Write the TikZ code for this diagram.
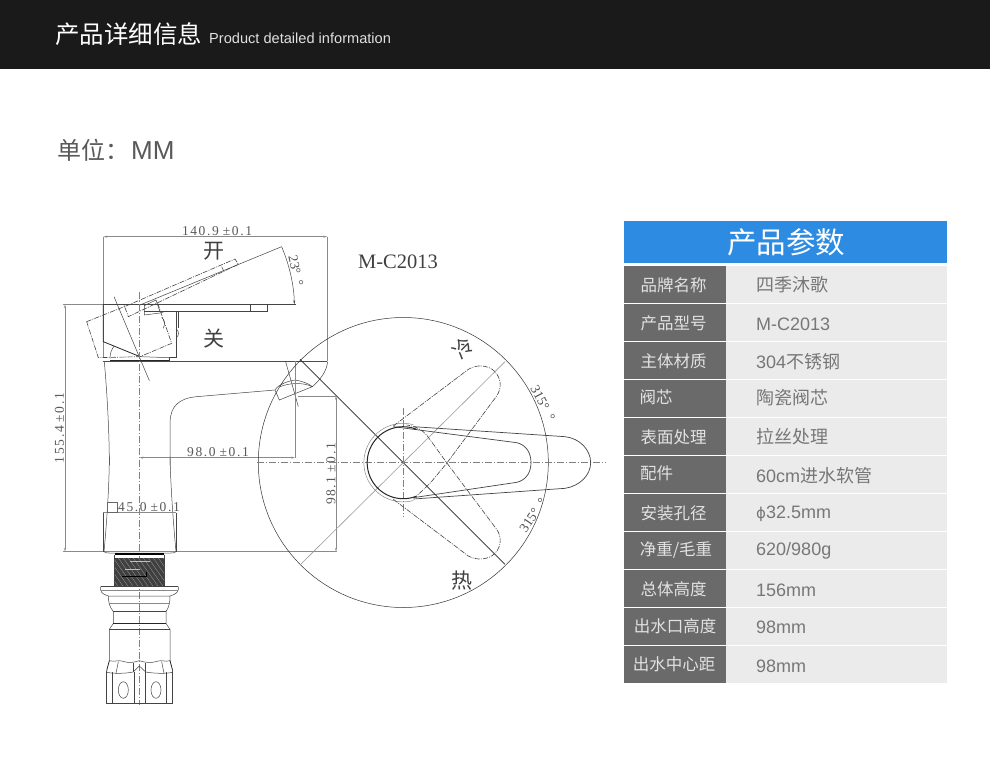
\documentclass[tikz,border=0pt]{standalone}
\usepackage{fontspec}
\usetikzlibrary{arrows.meta}
\setmainfont{Liberation Sans}
\newfontfamily\cjk{Noto Sans CJK SC}
\newfontfamily\cadfont[LetterSpace=12]{Liberation Serif}
\newfontfamily\modelfont{Liberation Serif}
\newfontfamily\phifont{DejaVu Sans}
\newcommand{\zh}[1]{{\cjk #1}}
\newcommand{\tolgap}{\hspace{4pt}}
\definecolor{barblack}{HTML}{1A1A1A}
\definecolor{headblue}{HTML}{2D8BE2}
\definecolor{keygray}{HTML}{6A6A6A}
\definecolor{valgray}{HTML}{EBEBEB}
\definecolor{valtext}{HTML}{777777}
\definecolor{keytext}{HTML}{E2E2E2}
\definecolor{cadline}{HTML}{444444}
\definecolor{dimline}{HTML}{8A8A8A}
\tikzset{
 keycell/.style={fill=keygray,draw=none},
 valcell/.style={fill=valgray,draw=none},
 keylabel/.style={inner sep=0,text=keytext,font=\fontsize{16.5}{17}\selectfont\cjk},
 vallabel/.style={inner sep=0,anchor=west,text=valtext,font=\fontsize{18}{18}\selectfont},
 cadtext/.style={inner sep=0,text=black!65,font=\fontsize{13.5}{13}\selectfont\cadfont},
 anglelabel/.style={inner sep=0,text=black!70,font=\fontsize{13.5}{13}\selectfont\modelfont},
 cadzh/.style={inner sep=0,text=black!75,font=\fontsize{21}{21}\selectfont\cjk},
 outline/.style={draw=cadline,line width=.5pt},
 bold/.style={draw=black!85,line width=1pt},
 thinline/.style={draw=dimline,line width=.5pt},
 dimension/.style={draw=dimline,line width=.5pt,{Stealth[length=4pt,width=2pt]}-{Stealth[length=4pt,width=2pt]}},
 centerline/.style={draw=black!50,line width=.5pt,dash pattern=on 7pt off 2pt on 1pt off 2pt},
 phantomline/.style={draw=cadline,line width=.6pt,dash pattern=on 5pt off 1.2pt on 1pt off 1.2pt},
 zonea/.style={shift={(50,215)},x=.33333pt,y=-.33333pt},
 zoneb/.style={shift={(50,460)},x=.33333pt,y=-.33333pt},
 zonec/.style={shift={(250,320)},x=.33333pt,y=-.33333pt},
}
\begin{document}
\begin{tikzpicture}[x=1pt,y=-1pt]
\useasboundingbox (0,0) rectangle (990,766);
\fill[white] (0,0) rectangle (990,766);
% title bar
\fill[barblack] (0,0) rectangle (990,69);
\node[inner sep=0,anchor=west,text=white,font=\fontsize{24.5}{25}\selectfont\cjk] (title) at (55,34) {产品详细信息};
\node[inner sep=0,anchor=west,text=white!88!black,font=\fontsize{14.6}{15}\selectfont] (titleen) at (209,38) {Product detailed information};
\node[inner sep=0,anchor=west,text=black!65,font=\fontsize{24}{24}\selectfont] (unit) at (57,150) {\zh{单位：}\hspace{2pt}{\fontsize{26}{26}\selectfont MM}};
% table
\fill[headblue] (624,221) rectangle (947,263);
\node[inner sep=0,text=white,font=\fontsize{29.5}{30}\selectfont\cjk] (tablehead) at (786,242) {产品参数};
\foreach \t in {266,304.3,342.3,380.3,418.3,456.3,494,532,570,608,646}{
 \path[keycell] (624,\t) rectangle (726,\t+36.8);
 \path[valcell] (726,\t) rectangle (947,\t+36.8);
}
\node[keylabel] (k1) at (673.5,285) {品牌名称};
\node[keylabel] (k2) at (673.5,323) {产品型号};
\node[keylabel] (k3) at (673.5,361) {主体材质};
\node[keylabel,anchor=west] (k4) at (639.5,397) {阀芯};
\node[keylabel] (k5) at (673.5,437) {表面处理};
\node[keylabel,anchor=west] (k6) at (640,473) {配件};
\node[keylabel] (k7) at (673.5,513) {安装孔径};
\node[keylabel] (k8) at (676,550) {净重/毛重};
\node[keylabel] (k9) at (673.5,589) {总体高度};
\node[keylabel] (k10) at (675,626) {出水口高度};
\node[keylabel] (k11) at (674,664) {出水中心距};
\node[vallabel] (v1) at (756,285) {\zh{四季沐歌}};
\node[vallabel] (v2) at (756,324) {M-C2013};
\node[vallabel] (v3) at (756,361.5) {304\zh{不锈钢}};
\node[vallabel] (v4) at (756,398) {\zh{陶瓷阀芯}};
\node[vallabel] (v5) at (756,437) {\zh{拉丝处理}};
\node[vallabel] (v6) at (756,476) {60cm\zh{进水软管}};
\node[vallabel] (v7) at (756,513.5) {{\phifont\fontsize{15}{15}\selectfont ϕ}32.5mm};
\node[vallabel] (v8) at (756,551) {620/980g};
\node[vallabel] (v9) at (756,590) {156mm};
\node[vallabel] (v10) at (756,627.5) {98mm};
\node[vallabel] (v11) at (756,666) {98mm};
% ---------- side view, upper ----------
\begin{scope}[zonea]
 \draw[thinline] (160,65) -- (160,430);
 \draw[thinline] (832,65) -- (832,438);
 \draw[dimension] (160,65) -- (832,65);
 \draw[thinline] (40,268) -- (160,268);
 % handle closed
 \draw[outline,line width=.7pt] (160,268) -- (653,268);
 \draw[bold,line width=.8pt] (160,268) -- (160,380) -- (270,425);
 \draw[outline] (270,425) -- (358,428);
 \draw[outline] (283,288) -- (653,288) -- (653,268);
 \draw[outline] (600,268) -- (600,288);
 \draw[outline] (283,268) -- (283,300) -- (330,294) -- (350,288);
 \draw[outline] (378,290) -- (378,428) -- (358,428) -- (358,437);
 \draw[outline] (385,290) -- (385,340);
 \draw[outline] (378,342) .. controls (388,345) and (388,365) .. (378,368);
 \draw[outline] (335,308) .. controls (345,312) and (345,330) .. (340,340);
 \draw[outline] (180,430) .. controls (180,415) and (185,402) .. (192,394);
 \draw[bold] (180,436) -- (358,436);
 % base line
 \draw[bold,line width=1pt,draw=black!70] (158,438) -- (832,438);
 % open position
 \draw[phantomline] (110,320) -- (240,268) -- (555,132) -- (565,148) -- (235,305) -- (222,270);
 \draw[phantomline] (110,320) -- (145,428) -- (270,425) -- (365,385) -- (322,262);
 \draw[outline] (283,272) -- (318,255) -- (330,290);
 \draw[outline] (515,155) -- (522,170);
 \draw[outline] (270,270) -- (695,95);
 \draw[outline] (192,245) -- (298,497);
 \draw[outline,-{Stealth[length=4pt,width=2pt]}] (695,95) .. controls (718,150) and (732,210) .. (733,268);
 \draw[outline] (653,268) -- (737,268);
 % body silhouette
 \draw[outline] (163,440) .. controls (170,520) and (178,640) .. (178,750);
 \draw[outline] (360,750) -- (360,620) .. controls (362,575) and (385,550) .. (440,545) -- (675,525);
 % spout tip
 \draw[outline] (675,525) .. controls (685,508) and (715,498) .. (735,495) .. controls (755,498) and (775,505) .. (787,515) -- (688,555) -- (675,525);
 \draw[outline] (690,515) .. controls (715,505) and (755,500) .. (787,515);
 \draw[outline] (833,440) .. controls (830,470) and (810,495) .. (787,515);
 \draw[outline] (707,440) -- (745,575);
 \draw[thinline] (735,438) -- (735,730);
 \draw[thinline] (745,543) -- (858,543);
 \draw[dimension] (268,728) -- (735,728);
\end{scope}
\node[cadtext] (d1) at (217,231) {140.9\tolgap ±0.1};
\node[cadzh] (open) at (214,251) {开};
\node[cadzh] (close) at (214,339) {关};
\node[inner sep=0,text=black!75,font=\fontsize{20.5}{20}\selectfont\modelfont] (model) at (398,262) {M-C2013};
\node[anglelabel,rotate=-78] (a23) at (296,271) {23°\hspace{7pt}°};
\node[cadtext] (d2) at (218,452) {98.0\tolgap ±0.1};
\node[cadtext,rotate=90] (d3) at (59.5,428) {155.4\tolgap ±0.1};
\node[cadtext,rotate=90] (d4) at (331,474) {98.1\tolgap ±0.1};
% centre axis
\draw[centerline] (139.3,292) -- (139.3,705);
% dimension 155.4 and 98.1
\draw[dimension] (65,304.3) -- (65,551.7);
\draw[thinline] (63,551.7) -- (337,551.7);
\draw[dimension] (336,396) -- (336,551.7);
% ---------- side view, lower ----------
\begin{scope}[zoneb]
 \draw[outline] (178,-10) .. controls (178,60) and (172,170) .. (162,275) .. controls (165,278) and (170,279) .. (178,279) -- (362,279) .. controls (370,279) and (375,278) .. (378,275);
 \draw[outline] (360,-10) .. controls (362,80) and (370,190) .. (378,275);
 \draw[thinline] (160,158) -- (378,158);
 \draw[outline] (160,158) -- (160,275);
 \draw[outline] (378,158) -- (378,275);
 \draw[outline,draw=black!60] (172,127) rectangle (203,157);
 % thread
 \draw[line width=1.2pt,black] (195,282) -- (343,282);
 \fill[black!75] (193,294) rectangle (343,380);
 \begin{scope}
  \clip (193,294) rectangle (343,380);
  \foreach \o in {130,145,...,360}{
   \draw[white!70!black,line width=.2pt] (\o,294) -- (\o+60,380);
  }
  \draw[black,line width=1pt] (215,350) -- (290,350) (290,335) -- (290,350);
  \draw[white!75!black,line width=.5pt] (225,328) -- (270,328) (240,305) -- (300,305);
 \end{scope}
 \draw[outline] (193,284) -- (193,380) (343,284) -- (343,380);
 % flange
 \draw[outline] (152,380) -- (385,380);
 \draw[outline] (152,380) .. controls (150,395) and (155,402) .. (175,408) -- (360,408) .. controls (380,402) and (387,395) .. (385,380);
 \draw[thinline] (152,392) -- (385,392);
 \draw[outline] (175,408) .. controls (175,425) and (178,440) .. (190,455) -- (190,490) -- (178,508) -- (178,605);
 \draw[outline] (360,408) .. controls (360,425) and (358,440) .. (348,455) -- (348,490) -- (360,508) -- (360,605);
 \draw[thinline] (176,430) -- (359,430);
 \draw[outline] (190,455) -- (348,455);
 \draw[bold,line width=.7pt] (190,490) -- (348,490);
 \draw[outline] (178,508) -- (360,508);
 % nut
 \draw[outline] (178,602) .. controls (195,606) and (205,600) .. (215,603) .. controls (235,610) and (250,608) .. (268,602) .. controls (285,608) and (305,610) .. (325,603) .. controls (335,600) and (345,606) .. (360,602);
 \draw[outline] (170,637) .. controls (195,642) and (230,640) .. (250,636) -- (268,618) -- (287,636) .. controls (310,640) and (345,642) .. (368,637);
 \draw[bold,line width=.8pt] (178,602) -- (170,632);
 \draw[bold,line width=.8pt] (360,602) -- (368,632);
 \draw[outline] (170,632) -- (170,730) -- (368,730) -- (368,632);
 \draw[outline] (188,637) -- (188,730) (252,636) -- (252,730) (285,636) -- (285,730) (350,637) -- (350,730);
 \draw[outline] (205,605) -- (198,640) (335,605) -- (342,640);
 \draw[outline] (250,608) -- (250,636) (287,608) -- (287,636);
 \draw[outline] (220,690) ellipse[x radius=5pt,y radius=8.3pt];
 \draw[outline] (318,690) ellipse[x radius=5pt,y radius=8.3pt];
\end{scope}
\node[cadtext,anchor=west] (d5) at (118,507) {45.0\tolgap ±0.1};
% ---------- top view ----------
\draw[outline,draw=black!80] (403.3,462.5) circle[radius=145pt];
\begin{scope}[zonec]
 \draw[centerline] (22,428) -- (1068,428);
 \draw[centerline] (460,265) -- (460,590);
 \draw[draw=black!85,line width=.6pt] (150,118) -- (765,733);
 \draw[draw=black!40,line width=.6pt] (150,735) -- (765,125);
 % outer handle
 \draw[outline,line width=.7pt] (490,320) -- (945,350) .. controls (990,355) and (1022,390) .. (1022,428) .. controls (1022,465) and (990,498) .. (945,505) -- (490,537);
 % inner handle
 \draw[outline,line width=.7pt] (430,320) -- (800,368) .. controls (830,375) and (843,400) .. (843,428) .. controls (843,455) and (830,480) .. (800,487) -- (490,533);
 % hub
 \draw[thinline] (490,314) arc[start angle=75,end angle=285,radius=39.3pt];
 \draw[draw=black!85,line width=1pt] (500,328) arc[start angle=68,end angle=292,radius=36pt];
 % cold and hot positions
 \draw[phantomline] (430,318) -- (655,148) .. controls (680,132) and (715,135) .. (735,155) .. controls (755,178) and (755,205) .. (740,228) -- (590,430) -- (540,490) -- (500,528);
 \draw[phantomline] (430,538) -- (655,708) .. controls (680,722) and (715,720) .. (735,700) .. controls (755,678) and (755,650) .. (740,628) -- (590,428) -- (530,345) .. controls (515,328) and (495,318) .. (470,315);
\end{scope}
\node[cadzh,font=\fontsize{20}{20}\selectfont\cjk,rotate=45] (cold) at (463,348) {冷};
\node[cadzh] (hot) at (462,581) {热};
\node[anglelabel,rotate=-62] (a1) at (543,403) {315°\hspace{7pt}°};
\node[anglelabel,rotate=56] (a2) at (533,515) {315°\hspace{7pt}°};
\end{tikzpicture}
\end{document}
